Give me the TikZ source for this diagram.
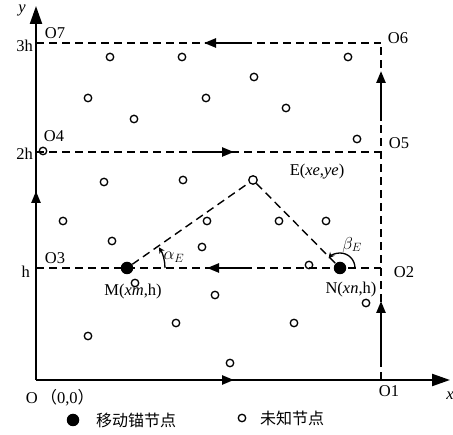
\documentclass[tikz,border=0pt]{standalone}
\usepackage{fontspec}
\setmainfont{Liberation Serif}
\newfontfamily\cjk{Noto Sans CJK SC}
\usetikzlibrary{arrows.meta}
\begin{document}
\begin{tikzpicture}[x=1pt,y=-1pt,
  lbl/.style={font=\fontsize{16.5}{19}\selectfont, inner sep=0pt},
  unk/.style={circle,draw,line width=1.3pt,minimum size=7.5pt,inner sep=0pt},
  anc/.style={circle,fill,minimum size=12.5pt,inner sep=0pt},
  dline/.style={line width=1.4pt,dash pattern=on 8pt off 5pt},
  axis/.style={line width=2.2pt,-{Triangle[length=18pt,width=12pt]}},
  midarrow/.style={line width=2.4pt,-{Triangle[length=12pt,width=9pt]}},
  angarc/.style={line width=1.3pt,-{Stealth[length=6pt,width=6pt]}}
]
\useasboundingbox (0,0) rectangle (453,435);
\coordinate (O) at (36,380);
\coordinate (O1) at (381,380);
\coordinate (O2) at (381,268);
\coordinate (O3) at (36,268);
\coordinate (O4) at (36,152);
\coordinate (O5) at (381,152);
\coordinate (O6) at (381,43);
\coordinate (O7) at (36,43);
\coordinate (xend) at (450,380);
\coordinate (yend) at (36,6);
% dashed grid lines
\draw[dline] (O3) -- (O2);
\draw[dline] (O4) -- (O5);
\draw[dline] (O7) -- (O6);
\draw[dline] (O1) -- (O6);
% axes
\draw[axis] (O) -- (xend);
\draw[axis] (O) -- (yend);
% route arrows
\coordinate (a1s) at (193,380); \coordinate (a1e) at (234,380);
\coordinate (a2s) at (381,362); \coordinate (a2e) at (381,301);
\coordinate (a3s) at (247,268); \coordinate (a3e) at (207,268);
\coordinate (a4s) at (36,232); \coordinate (a4e) at (36,191);
\coordinate (a5s) at (192,152); \coordinate (a5e) at (234,152);
\coordinate (a6s) at (381,121); \coordinate (a6e) at (381,71);
\coordinate (a7s) at (246,43); \coordinate (a7e) at (204,43);
\foreach \i in {1,...,7} {\draw[midarrow] (a\i s) -- (a\i e);}
% labels
\node[lbl] (ly) at (22,10) {\textit{y}};
\node[lbl] (lx) at (450,396) {\textit{x}};
\node[lbl,anchor=east] (l3h) at (33,46) {3h};
\node[lbl,anchor=east] (l2h) at (33,154) {2h};
\node[lbl,anchor=east] (lh) at (30,272) {h};
\node[lbl] (lO7) at (55,33) {O7};
\node[lbl] (lO4) at (54,136) {O4};
\node[lbl] (lO3) at (55,258) {O3};
\node[lbl] (lO6) at (398,38) {O6};
\node[lbl] (lO5) at (399,143) {O5};
\node[lbl] (lO2) at (404,272) {O2};
\node[lbl] (lO1) at (389,391) {O1};
\node[lbl] (lO) at (60,398) {O\,{\cjk （}0,0{\cjk ）}};
% unknown nodes
\foreach \n/\p in {u1/{(110,57)},u2/{(182,57)},u3/{(254,77)},u4/{(88,98)},u5/{(206,98)},
  u6/{(134,119)},u7/{(286,108)},u8/{(348,57)},u9/{(357,139)},u10/{(43,151)},
  u11/{(104,182)},u12/{(183,180)},u13/{(63,221)},u14/{(112,241)},u15/{(207,221)},
  u16/{(202,247)},u17/{(135,283)},u18/{(215,295)},u19/{(279,221)},u20/{(326,221)},
  u21/{(309,265)},u22/{(88,336)},u23/{(176,323)},u24/{(230,363)},u25/{(294,323)},
  u26/{(366,303)}}
  {\node[unk] (\n) at \p {};}
\node[unk,minimum size=8.5pt] (E) at (253,180) {};
\node[anc] (M) at (127,268) {};
\node[anc] (N) at (340,268) {};
\draw[dline] (M) -- (E);
\draw[dline] (E) -- (N);
% angle arcs
\draw[angarc] ([shift={(0:38)}]M.center) arc[start angle=0,end angle=-33,radius=38];
\draw[angarc] ([shift={(0:15)}]N.center) arc[start angle=0,end angle=-140,radius=15];
\node[lbl] (la) at (174,257) {$\alpha_{E}$};
\node[lbl] (lb) at (352,245) {$\beta_{E}$};
\node[lbl] (lM) at (133,292) {M(\textit{xm},h)};
\node[lbl] (lN) at (351,290) {N(\textit{xn},h)};
\node[lbl] (lE) at (317,172) {E(\textit{xe},\textit{ye})};
% legend
\node[anc] (leg1) at (73,420) {};
\node[font=\cjk\fontsize{16}{18}\selectfont,anchor=west,inner sep=0pt] (leg1t) at (96,420) {移动锚节点};
\node[unk] (leg2) at (242,418) {};
\node[font=\cjk\fontsize{16}{18}\selectfont,anchor=west,inner sep=0pt] (leg2t) at (260,418) {未知节点};
\end{tikzpicture}
\end{document}
